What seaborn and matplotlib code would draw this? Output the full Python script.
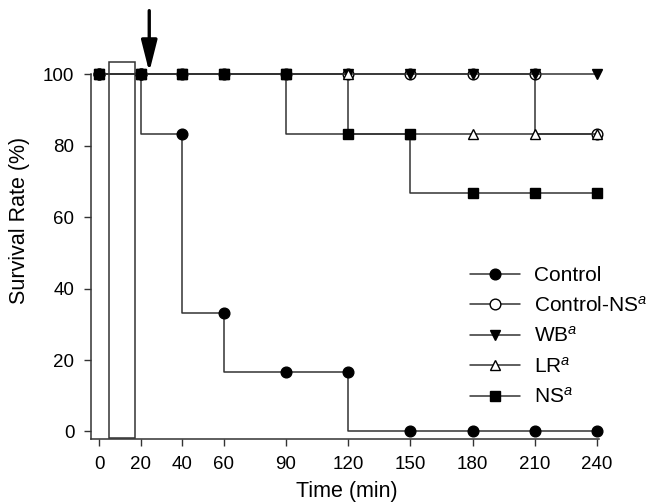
import matplotlib
matplotlib.use('Agg')
import matplotlib.pyplot as plt
import matplotlib.patches as patches
import numpy as np
import seaborn as sns

# data
times = [0, 20, 40, 60, 90, 120, 150, 180, 210, 240]
control = [100, 100, 83.3, 33.3, 16.7, 16.7, 0, 0, 0, 0]
control_ns = [100, 100, 100, 100, 100, 100, 100, 100, 100, 83.3]
wb = [100, 100, 100, 100, 100, 100, 100, 100, 100, 100]
lr = [100, 100, 100, 100, 100, 100, 83.3, 83.3, 83.3, 83.3]
ns = [100, 100, 100, 100, 100, 83.3, 83.3, 66.7, 66.7, 66.7]

xticks = [0, 20, 40, 60, 90, 120, 150, 180, 210, 240]
yticks = [0, 20, 40, 60, 80, 100]

line_col = '#333333'


def main():
    sns.set_style('ticks')
    plt.rcParams['font.family'] = ['Liberation Sans', 'DejaVu Sans']
    plt.rcParams['mathtext.fontset'] = 'custom'
    plt.rcParams['mathtext.rm'] = 'Liberation Sans'
    plt.rcParams['mathtext.it'] = 'Liberation Sans:italic'
    plt.rcParams['text.color'] = 'black'
    plt.rcParams['axes.labelcolor'] = 'black'
    plt.rcParams['xtick.labelcolor'] = 'black'
    plt.rcParams['ytick.labelcolor'] = 'black'

    fig = plt.figure(figsize=(6.55, 5.03), dpi=100)
    ax = fig.add_axes([91/655, 64/503, 512.2/655, 438/503])

    series = [
        (control, 'Control', 'o', 'black', 7.7),
        (control_ns, r'Control-NS$^{a}$', 'o', 'white', 7.7),
        (wb, r'WB$^{a}$', 'v', 'black', 7.4),
        (lr, r'LR$^{a}$', '^', 'white', 7.4),
        (ns, r'NS$^{a}$', 's', 'black', 6.8),
    ]
    for vals, lab, mk, fc, ms in series:
        sns.lineplot(x=times, y=vals, ax=ax, label=lab, color=line_col, lw=1.1,
                     drawstyle='steps-pre', marker=mk, markersize=ms,
                     markerfacecolor=fc, markeredgecolor='black', markeredgewidth=1.0)

    # infusion box and arrow
    box = patches.Rectangle((4.7, -1.8), 12.3, 105.3, fill=False, ec=line_col, lw=1.1,
                            clip_on=False)
    ax.add_patch(box)
    ax.annotate('', xy=(24, 100.6), xytext=(24, 117.8),
                arrowprops=dict(arrowstyle='-|>,head_length=0.95,head_width=0.24',
                                lw=2.4, color='black', mutation_scale=20,
                                shrinkA=0, shrinkB=0),
                annotation_clip=False)

    ax.set_xlim(-4.1, 243)
    ax.set_ylim(-2.1, 120.5)
    ax.set_xticks(xticks)
    ax.set_yticks(yticks)
    ax.tick_params(axis='both', direction='out', length=5, width=1, color=line_col,
                   labelsize=13.5, pad=7)
    ax.spines['top'].set_visible(False)
    ax.spines['right'].set_visible(False)
    ax.spines['left'].set_bounds(-2.1, 100)
    ax.spines['bottom'].set_bounds(-4.1, 241)
    for s in ['left', 'bottom']:
        ax.spines[s].set_color(line_col)
        ax.spines[s].set_linewidth(1.1)

    ax.set_xlabel('Time (min)', fontsize=15.5, labelpad=6)
    ax.set_ylabel('Survival Rate (%)', fontsize=15.5, labelpad=9)

    ax.legend(loc='center left', bbox_to_anchor=(470/655, 0.331),
              bbox_transform=fig.transFigure, frameon=False, fontsize=15,
              handlelength=2.4, handletextpad=0.65, labelspacing=0.5,
              borderpad=0, borderaxespad=0)

    plt.savefig('out.png', dpi=100)


if __name__ == '__main__':
    main()
